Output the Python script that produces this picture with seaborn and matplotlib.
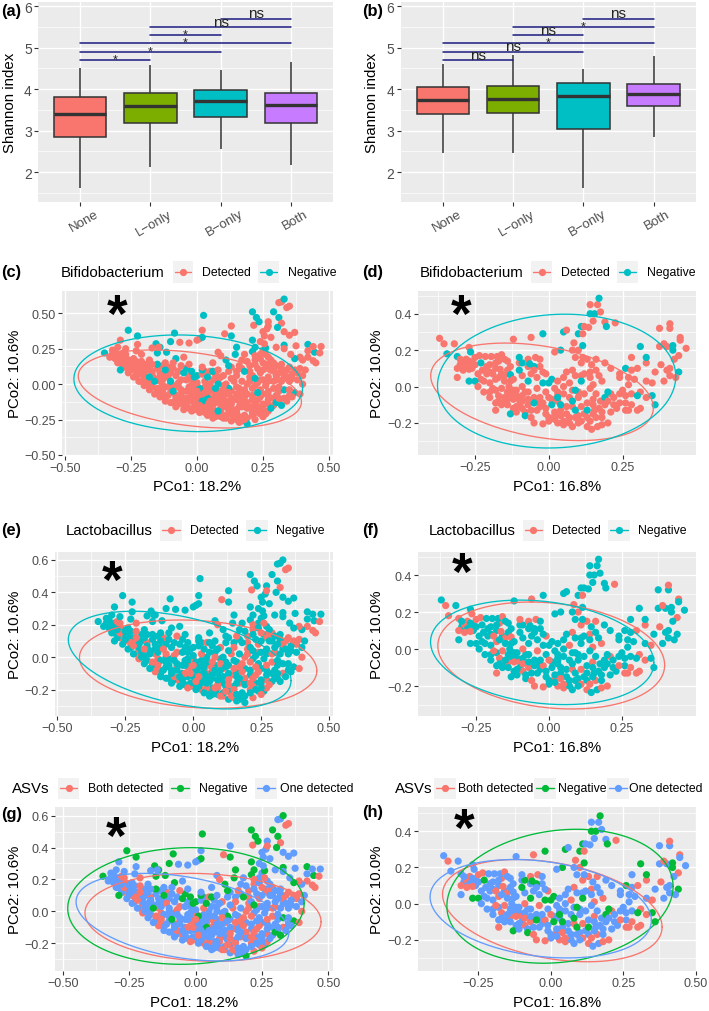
import numpy as np
import pandas as pd
import matplotlib
matplotlib.use("Agg")
import matplotlib.pyplot as plt
from matplotlib.transforms import Affine2D
from matplotlib.patches import Rectangle
from matplotlib.lines import Line2D
import seaborn as sns

# ---------- data ----------
categories = ["None", "L\u2212only", "B\u2212only", "Both"]
# each list: lower whisker, Q1, median, Q3, upper whisker
shannon_a_none = [1.61, 2.84, 3.40, 3.82, 4.51]
shannon_a_l = [2.12, 3.18, 3.60, 3.90, 4.59]
shannon_a_b = [2.55, 3.33, 3.71, 3.99, 4.45]
shannon_a_both = [2.18, 3.18, 3.61, 3.90, 4.65]
shannon_b_none = [2.47, 3.39, 3.75, 4.04, 4.61]
shannon_b_l = [2.47, 3.42, 3.77, 4.08, 4.82]
shannon_b_b = [1.61, 3.03, 3.84, 4.15, 4.49]
shannon_b_both = [2.84, 3.59, 3.89, 4.13, 4.81]

sig_left = [1, 1, 1, 2, 2, 3]
sig_right = [2, 3, 4, 3, 4, 4]
sig_level = [4.7, 4.9, 5.1, 5.3, 5.5, 5.7]
sig_a = ["*", "*", "*", "*", "ns", "ns"]
sig_b = ["ns", "ns", "*", "ns", "*", "ns"]

# code: B both detected, F bifidobacterium only, L lactobacillus only, N neither
left_x = [
 -.32,-.31,-.30,-.29,-.28,-.27,-.26,-.29,-.27,-.25,
 -.23,-.24,-.22,-.23,-.21,-.19,-.20,-.17,-.15,-.19,
 -.21,-.18,-.16,-.14,-.12,-.10,-.11,-.13,-.07,-.04,
 -.17,-.15,-.13,-.10,-.08,-.06,-.03,-.02,.0,.03,
 -.13,-.12,-.10,-.08,-.06,-.04,-.02,.0,.03,.05,
 -.09,-.07,-.05,-.04,-.02,-.01,.02,.04,.06,.08,
 -.03,-.01,.01,.03,.02,.05,.07,.09,.11,.13,
 .03,.05,.07,.09,.11,.07,.11,.14,.16,.19,
 .06,.09,.11,.13,.15,.17,.19,.21,.23,.25,
 .13,.15,.17,.19,.21,.23,.25,.27,.29,.27,
 .22,.24,.26,.27,.29,.31,.33,.35,.31,.29,
 .20,.23,.26,.28,.24,.22,.25,.20,.17,.15,
 .27,.29,.32,.34,.38,.36,.33,.30,.27,.24,
 .08,.10,.07,.11,.14,.16,.19,.22,.25,.20,
 -.35,-.32,-.31,-.30,-.29,-.295,-.28,-.27,-.26,-.33,
 -.225,-.225,-.23,-.155,-.14,-.15,-.145,-.17,-.115,-.085,
 -.10,-.065,-.03,.01,.02,.025,.02,.0,.105,.13,
 .13,.15,.145,.08,.18,.21,.22,.21,.215,.21,
 .225,.235,.25,.255,.265,.27,.27,.28,.24,.26,
 .29,.31,.31,.32,.33,.34,.35,.32,.305,.33,
 .35,.37,.33,.33,.375,.42,.445,.47,.465,.44,
 .42,.42,.44,.45,.40,.39,.37,.355,.30,.255,
 .22,.24,.26,.28,.25,.22,.19,.16,.13,.11,
 .27,.30,.32,.35,.37,.39,.41,.40,.36,.33,
 .30,.27,.24,.21,.18,.15,.12,.13,.17,.20,
 .23,.26,.29,.32,.35,.38,.40,.34,.31,.28,
 .33,.37,.36,.39,.34,.30,.27,.24,.21,.18,
 .15,.12,.10,.15,.18,.21,.24,.27,.30,.32,
 .25,.22,.19,.16,.13,.10,.07,.04,.01,-.02,
 .25,.22,.19,.16,.13,.10,.07,.04,.01,-.02,
 .25,.21,.18,.15,.12,.09,.06,.03,.0,-.03,
 .19,.16,.18,.14,.11,.08,.05,.02,-.01,-.04,
 .10,.07,.04,.01,-.02,-.05,-.08,-.07,-.10,-.06,
 -.12,-.14,-.11,-.09,-.06,-.03,.0,.03,.06,.09,
 -.16,-.18,-.15,-.12,-.10,-.07,-.04,-.01,.02,.05,
 -.20,-.22,-.19,-.16,-.13,-.11,-.08,-.05,-.02,.02,
 -.24,-.26,-.23,-.20,-.17,-.14,-.12,-.09,-.06,-.03,
 -.28,-.30,-.27,-.24,-.21,-.18,-.15,-.12,-.08,-.05,
 -.29,-.31,-.27,-.24,-.21,-.18,-.09,.02,.06,.09,
 .06,.08,.12,.17,.22,.25,.29,.31,.10,.05,
 -.19,-.13,-.08,-.05,-.01,.03,.07,.12,.17,.23,
 .08,.12,.16,.13,.17,.21,.23,.28,.31,.35,
 -.25,-.22,-.18,-.25,-.28,-.21,-.17,-.14,-.10,-.07,
 -.03,.0,.02,.05,.08,.01,.05,.09,.04,.08,
]
left_y = [
 .21,.23,.19,.21,.19,.21,.17,.15,.12,.14,
 .16,.10,.12,.06,.09,.10,.05,.09,.11,.14,
 .02,.01,.04,.02,.06,.08,.12,.13,.09,.11,
 -.02,-.05,-.01,-.03,-.01,.03,.06,.03,.06,.09,
 -.07,-.10,-.06,-.08,-.06,-.05,-.03,-.01,-.02,.0,
 -.13,-.14,-.15,-.10,-.12,-.07,-.06,-.07,-.05,-.05,
 -.17,-.18,-.17,-.16,-.10,-.10,-.09,-.10,-.07,-.05,
 -.20,-.21,-.19,-.19,-.16,-.13,-.12,-.11,-.09,-.07,
 -.24,-.23,-.24,-.21,-.18,-.16,-.15,-.11,-.11,-.07,
 -.26,-.25,-.26,-.24,-.20,-.16,-.16,-.14,-.10,-.08,
 -.25,-.21,-.21,-.19,-.15,-.13,-.10,-.08,-.05,-.03,
 .09,.11,.14,.14,.21,.17,.24,.13,.11,.09,
 .19,.15,.14,.10,.08,.04,.05,.03,.02,.03,
 .03,.06,.07,.0,.02,-.03,.0,-.01,.03,.05,
 .22,.24,.20,.26,.31,.17,.22,.25,.38,.19,
 .34,.28,.235,.285,.26,.22,.26,.255,.225,.36,
 .30,.295,.29,.32,.33,.485,.38,.31,.355,.41,
 .34,.26,.21,.225,.21,.31,.26,.23,.415,.51,
 .47,.44,.37,.34,.39,.44,.41,.33,.30,.255,
 .51,.47,.575,.58,.60,.54,.55,.43,.40,.37,
 .345,.365,.275,.25,.27,.28,.225,.265,.22,.265,
 .235,.19,.165,.15,.17,.19,.18,.21,.26,.285,
 .20,.18,.21,.17,.15,.14,.16,.13,.12,.17,
 .12,.13,.11,.12,.10,.11,.10,.06,.07,.08,
 .06,.05,.08,.06,.09,.06,.09,.04,.02,.02,
 .01,-.01,.02,.02,.02,.03,.0,.05,.08,.10,
 -.04,-.06,-.09,-.07,-.12,-.08,-.05,-.04,-.03,-.04,
 -.02,-.03,-.01,-.07,-.09,-.08,-.09,-.11,-.13,-.15,
 -.14,-.13,-.13,-.12,-.10,-.08,-.07,-.05,-.03,-.01,
 -.19,-.18,-.17,-.16,-.14,-.13,-.11,-.10,-.08,-.06,
 -.23,-.22,-.22,-.20,-.18,-.17,-.15,-.14,-.12,-.10,
 -.28,-.27,-.25,-.24,-.22,-.21,-.19,-.18,-.16,-.14,
 -.24,-.23,-.22,-.20,-.19,-.18,-.16,-.12,-.13,-.08,
 -.12,-.09,-.08,-.05,-.04,-.02,.01,.02,.03,.05,
 -.07,-.04,-.03,-.02,.0,.01,.03,.05,.07,.09,
 -.01,.02,.03,.02,.03,.05,.06,.08,.09,.10,
 .05,.08,.09,.08,.07,.08,.10,.11,.13,.14,
 .12,.15,.15,.13,.12,.12,.14,.15,.18,.19,
 .10,.18,.19,.18,.16,.17,.15,.12,.15,.20,
 .09,.10,.13,.17,.04,.10,.10,-.02,-.04,-.03,
 .0,-.05,-.10,-.12,-.10,-.06,-.03,-.06,-.06,-.06,
 -.19,-.21,-.23,-.17,-.13,-.16,-.20,-.17,-.10,-.04,
 .11,.07,.05,.16,.17,.21,.14,.05,.02,-.02,
 -.05,-.05,-.12,-.12,-.08,-.15,-.16,-.14,.05,.0,
]
left_code = list(
 "FFBFFBFFBF"
 "FBFFBFFBFF"
 "BFFBFFBFFN"
 "FFBFFBFFNF"
 "BFFFBFFBFF"
 "FFBFFBFFBF"
 "FBFFFBFFBF"
 "BFFBFFFBFF"
 "FFBFFBFFBF"
 "FBFFBFFBFF"
 "BFFBFFBFFB"
 "BFFBFBFBFF"
 "FBFBBFFBFB"
 "FBFFBFBFFB"
 "NFFFFFBFNF"
 "NFFNNNFFNN"
 "NFFFNNFFBF"
 "NNNFFNNNBN"
 "NNFFFFBFFN"
 "NNFFNBBBNF"
 "FFNFFNNFBF"
 "FBBBFBNFFF"
 "BFBFBFFBFN"
 "BFFBBBFFFB"
 "FFBFNBFFFB"
 "FFBFFFBFFF"
 "NNFBFFBFBB"
 "FNFBBFBFNN"
 "FBBFFFBFNF"
 "FBFFBFFNFB"
 "BFFBFBFFFB"
 "NFFBFFBFFF"
 "BFFFBFFBFF"
 "FBFNFFFBFF"
 "FFBFFBFNFB"
 "BFFNFBFNNN"
 "FFBFFFNFBF"
 "FFBFBFNFNF"
 "NFBFBFFFFB"
 "NFNFNFFFBF"
 "FBFFBFLFBL"
 "LBFBFBFLFF"
 "FBLFFBFFLF"
 "FBLFFBFFNL"
)

right_x = [
 -.30,-.29,-.28,-.28,-.26,-.26,-.25,-.24,-.23,-.21,
 -.20,-.18,-.18,-.16,-.15,-.13,-.20,-.18,-.17,-.14,
 -.17,-.15,-.14,-.12,-.11,-.10,-.08,-.10,-.12,-.09,
 -.07,-.05,-.04,-.03,-.02,-.01,.01,.03,.02,.04,
 .0,.03,.05,.06,.06,.08,.10,.07,.09,.11,
 .12,.13,.16,.18,.17,.15,.10,.08,.11,.14,
 .18,.16,.19,.22,.21,.25,.24,.27,.29,.31,
 -.03,-.01,-.06,-.10,-.14,-.17,.03,.05,.08,-.13,
 -.37,-.355,-.32,-.345,-.31,-.30,-.31,-.29,-.27,-.31,
 -.27,-.265,-.27,-.25,-.27,-.25,-.235,-.215,-.195,-.175,
 -.16,-.15,-.23,-.225,-.20,-.18,-.165,-.14,-.13,-.12,
 -.21,-.19,-.17,-.15,-.22,-.20,-.24,-.22,-.19,-.16,
 -.135,-.11,-.09,-.07,-.09,-.12,-.10,-.07,-.05,-.07,
 -.09,-.065,-.045,-.03,-.05,-.04,-.02,-.02,.0,.01,
 -.20,-.18,-.15,-.13,-.12,-.09,-.07,-.04,-.01,.02,
 -.16,-.14,-.11,-.13,-.09,-.07,-.05,-.03,.0,.03,
 -.11,-.08,-.06,-.08,-.06,-.04,-.01,.01,.02,.04,
 -.05,-.02,.0,.02,.04,.05,.07,.08,.10,.09,
 .07,.05,.08,.10,.12,.09,.11,.13,.13,.15,
 .05,.07,.03,.06,.09,.11,.12,.14,.15,.14,
 .15,.14,.13,.145,.165,.18,.20,.155,.175,.19,
 .20,.17,.16,.145,.13,.16,.19,.11,.09,.10,
 .115,.115,.085,.08,.04,.02,.05,.06,.10,.115,
 .11,.12,.135,.14,.155,.15,.14,.165,.17,.175,
 .19,.195,.225,-.06,-.02,.21,.24,.26,.28,.27,
 .20,.22,.24,.26,.23,.21,.26,.28,.30,.26,
 .27,.28,.30,.31,.24,.33,.35,.36,.33,.35,
 .30,.33,.36,.38,.40,.39,.41,.44,.43,.41,
 .31,.33,.28,.375,.41,.41,.40,.375,.39,.42,
 .42,.445,.445,.465,.44,.425,-.18,-.10,.03,.18,
]
right_y = [
 .12,.13,.11,.15,.13,.10,.16,.07,.04,.11,
 .08,.04,.10,.07,.06,.11,-.03,-.02,-.05,-.03,
 -.08,-.09,-.07,-.02,-.05,-.07,-.03,-.10,-.12,-.12,
 -.10,-.06,-.08,-.11,-.09,-.15,-.07,-.08,-.16,-.13,
 -.19,-.20,-.21,-.15,-.11,-.11,-.16,-.20,-.17,-.19,
 -.15,-.17,-.17,-.17,-.12,-.07,-.03,-.02,.06,.08,
 .03,-.04,-.10,-.10,-.04,-.02,.07,.01,.04,-.03,
 .11,.07,.07,.13,.14,.14,-.03,.05,.09,.03,
 .265,.235,.235,.18,.165,.15,.10,.09,.095,.05,
 .215,.19,.14,.12,.03,.03,.17,.165,.165,.165,
 .175,.15,.13,.09,.12,.13,.095,.09,.065,.26,
 .07,.07,.05,.03,.03,.02,.0,-.03,-.01,-.01,
 .0,-.02,.0,.03,.06,.04,.09,.11,.11,.15,
 .13,.125,.16,.15,.09,.05,.08,.02,.02,.04,
 -.06,-.09,-.06,-.04,-.07,-.05,-.03,-.01,-.03,-.01,
 -.10,-.10,-.11,-.15,-.08,-.07,-.09,-.06,-.06,-.05,
 -.14,-.14,-.13,-.16,-.17,-.13,-.12,-.10,-.14,-.10,
 -.20,-.205,-.17,-.18,-.16,-.19,-.17,-.22,-.20,-.13,
 -.06,-.04,-.08,-.06,-.04,-.02,-.11,-.13,-.09,-.10,
 .0,.02,.03,.08,.06,.03,.07,.05,.01,-.01,
 -.15,-.19,-.22,-.235,-.22,-.21,-.20,-.13,-.08,-.06,
 -.03,.06,.09,.12,.15,.15,.13,.13,.16,.20,
 .16,.225,.24,.20,.20,.19,.30,.31,.29,.29,
 .33,.33,.325,.40,.40,.36,.45,.45,.485,.41,
 .355,.33,.35,.27,.29,.10,.05,.10,.09,.05,
 -.08,-.06,-.04,-.05,-.12,-.14,-.09,-.04,-.05,-.13,
 -.13,-.10,-.13,-.12,-.09,-.06,-.05,-.10,.03,.02,
 .10,.13,.08,.12,.09,.03,.06,.08,.05,.10,
 .22,.16,.16,.32,.32,.345,.22,.22,.235,.20,
 .225,.27,.255,.21,.17,.15,-.13,.16,-.06,-.14,
]
right_code = list(
 "FBFBFFBFFF"
 "FBFFBFFFBF"
 "FFBFFBFFFB"
 "BFFFBFFFBF"
 "FBBFFBFFFB"
 "FFBFFBFFFB"
 "BFFFBFFFFB"
 "FBFFFBFFBF"
 "FBFLLFBBBF"
 "FLFFNNBFFF"
 "BFNFFFBFLF"
 "FBFFFFFFBB"
 "FFBNFFNFNB"
 "NNBFFFFNNN"
 "FFFFBFFBFF"
 "FFFNBFNFBF"
 "FFFNBFFNFN"
 "BBFFBBFFFN"
 "FFNFFNBNFF"
 "FBFFFNFFBF"
 "FBBFFBBFFN"
 "NFFFBBFBFB"
 "FNBFNFNFNB"
 "NFFNNFFFNF"
 "FNBBNFFNFF"
 "FFFFFFFFNB"
 "BBBBBBNNFB"
 "BBFBFFFNFF"
 "NNFFFBFFBN"
 "NBFFBFBLNF"
)

# ellipses: centre x, centre y, half width, half height, correlation
ell_c_det = [-.027, -.034, .4225, .2755, -.33]
ell_c_neg = [-.033, .006, .433, .341, -.09]
ell_d_det = [-.023, -.029, .377, .268, -.33]
ell_d_neg = [.0265, .03, .4035, .3675, .07]
ell_e_det = [.018, -.043, .437, .2725, -.15]
ell_e_neg = [-.05, -.018, .41, .3015, -.42]
ell_f_det = [.0075, -.035, .3895, .289, -.18]
ell_f_neg = [-.0235, -.018, .3835, .2825, -.2]
ell_g_both = [.0275, -.0375, .4455, .2755, -.1]
ell_g_neg = [-.037, .0335, .446, .3655, .04]
ell_g_one = [-.05, -.0365, .4015, .2745, -.35]
ell_h_both = [.005, -.0385, .379, .2825, -.32]
ell_h_neg = [.0315, .041, .3905, .37, .146]
ell_h_one = [-.035, -.028, .382, .272, -.24]

# ---------- style ----------
W, H = 709, 1012
sns.set_theme(style="darkgrid")
plt.rcParams["font.family"] = ["Liberation Sans", "DejaVu Sans"]
plt.rcParams["axes.unicode_minus"] = True
RED, TEAL, GREEN, BLUE = "#F8766D", "#00BFC4", "#00BA38", "#619CFF"
BOX_COLORS = ["#F8766D", "#7CAE00", "#00BFC4", "#C77CFF"]
fig = plt.figure(figsize=(W / 100, H / 100), dpi=100, facecolor="white")
PX = Affine2D().scale(1, -1).translate(0, H)


def make_axes(x0, x1, y0, y1):
    """x0..x1 and y0 (top)..y1 (bottom) in image pixels."""
    ax = fig.add_axes([x0 / W, 1 - y1 / H, (x1 - x0) / W, (y1 - y0) / H])
    ax.set_facecolor("#EBEBEB")
    for s in ax.spines.values():
        s.set_visible(False)
    ax.set_axisbelow(True)
    return ax


def style_grid(ax, xt, yt, xminor, yminor, tick_size):
    ax.set_xticks(xt)
    ax.set_yticks(yt)
    ax.set_xticks(xminor, minor=True)
    ax.set_yticks(yminor, minor=True)
    ax.grid(True, which="major", color="white", linewidth=1.0)
    ax.grid(True, which="minor", color="white", linewidth=0.5)
    ax.tick_params(which="major", length=3, width=0.8, color="#333333",
                   labelcolor="#4D4D4D", labelsize=tick_size, pad=1.5,
                   bottom=True, left=True)
    ax.tick_params(which="minor", length=0, bottom=False, left=False)


def label(ax, xlabel, xpos, ylabel, ypos):
    if xlabel:
        ax.set_xlabel(xlabel, fontsize=10.8, color="black")
        ax.xaxis.set_label_coords(xpos[0], xpos[1], transform=PX)
        ax.xaxis.label.set_va("center")
    ax.set_ylabel(ylabel, fontsize=10.8, color="black")
    ax.yaxis.set_label_coords(ypos[0] + 2, ypos[1], transform=PX)
    ax.yaxis.label.set_va("center")


def letter(s, x, y):
    fig.text(x, y, s, transform=PX, fontsize=11.8, fontweight="bold",
             ha="left", va="center", color="black")


def box_panel(rect, groups, sig, ylab_pos):
    ax = make_axes(*rect)
    df = pd.DataFrame({
        "group": np.repeat(categories, 5),
        "value": np.concatenate(groups),
    })
    sns.boxplot(data=df, x="group", y="value", hue="group", order=categories,
                hue_order=categories, palette=BOX_COLORS, legend=False,
                width=0.75, saturation=1, whis=np.inf, showcaps=False,
                linewidth=1.1, linecolor="#333333",
                medianprops={"linewidth": 2.4, "color": "#333333"}, ax=ax)
    ax.set_xlim(-0.6, 3.6)
    ax.set_ylim(1.28, 6.1)
    style_grid(ax, range(4), [2, 3, 4, 5, 6], [], [1.5, 2.5, 3.5, 4.5, 5.5], 10)
    ax.set_xticks(range(4))
    ax.set_xticklabels(categories, rotation=30, ha="center", fontsize=9.5,
                       color="#4D4D4D")
    ax.tick_params(axis="x", pad=1)
    for lbl in ax.get_xticklabels():
        lbl.set_transform(lbl.get_transform() + Affine2D().translate(4, 0))
    for a, b, lev, s in zip(sig_left, sig_right, sig_level, sig):
        ax.plot([a - 1, b - 1], [lev, lev], color="#1B1B80", lw=1.1, zorder=5)
        mid = (a + b) / 2 - 1
        if s == "*":
            ax.text(mid, lev - 0.13, s, fontsize=9, ha="center", va="bottom",
                    color="#222222", zorder=6)
        else:
            ax.text(mid, lev - 0.04, s, fontsize=11, ha="center", va="bottom",
                    color="#222222", zorder=6)
    ax.set_xlabel("")
    label(ax, None, None, "Shannon index", ylab_pos)
    return ax


def ellipse(ax, params, color):
    cx, cy, hw, hh, rho = params
    t = np.linspace(0, 2 * np.pi, 241)
    ax.plot(cx + hw * np.cos(t),
            cy + hh * (rho * np.cos(t) + np.sqrt(1 - rho ** 2) * np.sin(t)),
            color=color, lw=0.95, zorder=4)


def legend(y, title, title_x, entries):
    fig.text(title_x, y, title, transform=PX, fontsize=10.8, ha="left",
             va="center", color="black")
    for name, color, k0, k1, tx in entries:
        fig.add_artist(Rectangle((k0, y - 10.8), k1 - k0, 21.6, transform=PX,
                                 facecolor="#F2F2F2", edgecolor="none"))
        ym = y
        fig.add_artist(Line2D([k0 + 2, k1 - 2], [ym, ym], transform=PX, color=color, lw=1))
        fig.add_artist(Line2D([(k0 + k1) / 2], [ym], transform=PX, color=color,
                              marker="o", ms=5.2, mew=0, ls="none"))
        fig.text(tx, y, name, transform=PX, fontsize=8.8, ha="left", va="center",
                 color="black")


def star(x, y):
    fig.text(x, y + 11, "*", transform=PX, fontsize=38, fontweight="bold",
             ha="center", va="center", color="black")


def scatter_panel(rect, xlim, ylim, xs, ys, groups, order, colors, ells,
                  xt, yt, xminor, yminor, xfmt, yfmt, xlab, xpos, ylab, ypos):
    ax = make_axes(*rect)
    df = pd.DataFrame({"x": xs, "y": ys, "g": groups})
    sns.scatterplot(data=df, x="x", y="y", hue="g", hue_order=order,
                    palette=dict(zip(order, colors)), s=27, linewidth=0,
                    legend=False, ax=ax, zorder=3)
    for p, c in zip(ells, colors):
        ellipse(ax, p, c)
    ax.set_xlim(*xlim)
    ax.set_ylim(*ylim)
    style_grid(ax, xt, yt, xminor, yminor, 9)
    ax.set_xticklabels([f"{v:.2f}".replace("-", "\u2212") for v in xt])
    ax.set_yticklabels([yfmt.format(v).replace("-", "\u2212") for v in yt])
    label(ax, xlab, xpos, ylab, ypos)
    return ax


# ---------- box panels ----------
box_panel((38, 333, 3, 203),
          [shannon_a_none, shannon_a_l, shannon_a_b, shannon_a_both], sig_a, (8, 103))
box_panel((400.7, 695.7, 3, 203),
          [shannon_b_none, shannon_b_l, shannon_b_b, shannon_b_both], sig_b, (370, 103))
letter("(a)", 1, 12)
letter("(b)", 362, 12)

# ---------- groupings ----------
bif_l = ["Detected" if c in "BF" else "Negative" for c in left_code]
lac_l = ["Detected" if c in "BL" else "Negative" for c in left_code]
asv_names = {"B": "Both detected", "N": "Negative", "F": "One detected", "L": "One detected"}
asv_l = [asv_names[c] for c in left_code]
bif_r = ["Detected" if c in "BF" else "Negative" for c in right_code]
lac_r = ["Detected" if c in "BL" else "Negative" for c in right_code]
asv_r = [asv_names[c] for c in right_code]
TWO = ["Detected", "Negative"]
THREE = ["Both detected", "Negative", "One detected"]

LX = [-.5, -.25, 0, .25, .5]
LXm = [-.375, -.125, .125, .375]
RX = [-.25, 0, .25]
RXm = [-.375, -.125, .125, .375]

scatter_panel((62, 333, 292, 456.7), (-.511, .515), (-.505, .657), left_x, left_y,
              bif_l, TWO, [RED, TEAL], [ell_c_det, ell_c_neg],
              LX, [-.5, -.25, 0, .25, .5], LXm, [-.375, -.125, .125, .375],
              None, "{:.2f}", "PCo1: 18.2%", (197, 487), "PCo2: 10.6%", (13, 374))
scatter_panel((418.3, 695.7, 292, 456), (-.442, .4975), (-.376, .525), right_x, right_y,
              bif_r, TWO, [RED, TEAL], [ell_d_det, ell_d_neg],
              RX, [-.2, 0, .2, .4], RXm, [-.3, -.1, .1, .3, .5],
              None, "{:.1f}", "PCo1: 16.8%", (556.7, 487), "PCo2: 10.0%", (375, 374))
scatter_panel((55, 333, 552.7, 717), (-.509, .5145), (-.363, .651), left_x, left_y,
              lac_l, TWO, [RED, TEAL], [ell_e_det, ell_e_neg],
              LX, [-.2, 0, .2, .4, .6], LXm, [-.3, -.1, .1, .3, .5],
              None, "{:.1f}", "PCo1: 18.2%", (194.7, 748), "PCo2: 10.6%", (13, 635))
scatter_panel((418.3, 695.7, 552.7, 717), (-.449, .5036), (-.362, .526), right_x, right_y,
              lac_r, TWO, [RED, TEAL], [ell_f_det, ell_f_neg],
              RX, [-.2, 0, .2, .4], RXm, [-.3, -.1, .1, .3, .5],
              None, "{:.1f}", "PCo1: 16.8%", (556.7, 748), "PCo2: 10.0%", (375, 635))
scatter_panel((55, 333, 808, 971.7), (-.531, .518), (-.372, .654), left_x, left_y,
              asv_l, THREE, [RED, GREEN, BLUE], [ell_g_both, ell_g_neg, ell_g_one],
              LX, [-.2, 0, .2, .4, .6], LXm, [-.3, -.1, .1, .3, .5],
              None, "{:.1f}", "PCo1: 18.2%", (194.3, 1003), "PCo2: 10.6%", (13, 890))
scatter_panel((418.3, 695.7, 808, 972), (-.4576, .5), (-.372, .534), right_x, right_y,
              asv_r, THREE, [RED, GREEN, BLUE], [ell_h_both, ell_h_neg, ell_h_one],
              [-.25, 0, .25, .5], [-.2, 0, .2, .4], RXm, [-.3, -.1, .1, .3, .5],
              None, "{:.1f}", "PCo1: 16.8%", (556.7, 1003), "PCo2: 10.0%", (375, 890))

# ---------- legends, letters, stars ----------
legend(273, "Bifidobacterium", 61, [("Detected", RED, 172.7, 193.3, 202),
                                    ("Negative", TEAL, 257.7, 279.3, 287.7)])
legend(273, "Bifidobacterium", 420, [("Detected", RED, 531, 552, 560.7),
                                     ("Negative", TEAL, 616.7, 638, 646.7)])
legend(531.3, "Lactobacillus", 66, [("Detected", RED, 160, 182, 190),
                                    ("Negative", TEAL, 246, 268, 275.7)])
legend(531.3, "Lactobacillus", 428.3, [("Detected", RED, 522.7, 544, 552.3),
                                       ("Negative", TEAL, 608.3, 630, 638.3)])
legend(789.3, "ASVs", 12.3, [("Both detected", RED, 57.7, 79.3, 87.7),
                             ("Negative", GREEN, 169.3, 191, 199.3),
                             ("One detected", BLUE, 255, 276.7, 280.3)])
legend(789.3, "ASVs", 395, [("Both detected", RED, 434, 456, 458.3),
                            ("Negative", GREEN, 534, 555.7, 558),
                            ("One detected", BLUE, 607, 628.7, 628.7)])
for s, x, y in [("(c)", 1, 273), ("(d)", 362, 273), ("(e)", 1, 531), ("(f)", 362, 531),
                ("(g)", 1, 815), ("(h)", 362, 813)]:
    letter(s, x, y)
for x, y in [(117, 307), (460.7, 307), (112, 573), (461.7, 565), (116, 829), (464, 821)]:
    star(x, y)

fig.savefig("out.png", dpi=100)
